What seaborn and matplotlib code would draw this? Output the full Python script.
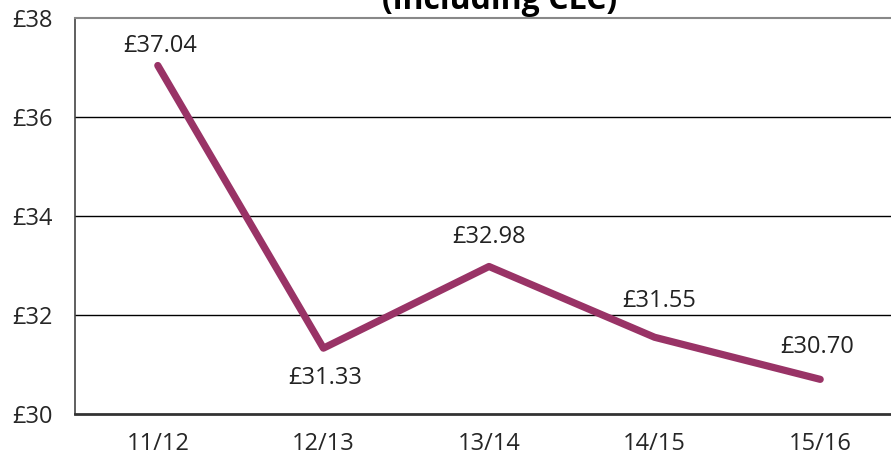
import matplotlib
matplotlib.use("Agg")
import matplotlib.pyplot as plt
import seaborn as sns
import pandas as pd
from matplotlib.ticker import FixedLocator

# data
years = ["11/12", "12/13", "13/14", "14/15", "15/16"]
costs = [37.04, 31.33, 32.98, 31.55, 30.70]
labels = ["£37.04", "£31.33", "£32.98", "£31.55", "£30.70"]
# label offsets in pixels (dx, dy)
offsets = [(2, 20), (2, -30), (0, 29), (5, 36), (-3, 32)]

sns.set_style("white")
plt.rcParams["font.family"] = ["Open Sans", "DejaVu Sans"]

df = pd.DataFrame({"x": range(len(years)), "cost": costs})

fig = plt.figure(figsize=(8.91, 4.61), dpi=100)
ax = fig.add_axes([75 / 891, 47 / 461, 828 / 891, 396 / 461])

for y in [32, 34, 36]:
    ax.axhline(y, color="black", lw=1, zorder=1)

sns.lineplot(data=df, x="x", y="cost", color="#993366", lw=5.2,
             solid_capstyle="round", solid_joinstyle="round", ax=ax, zorder=3)

for i, (v, t) in enumerate(zip(costs, labels)):
    ax.annotate(t, (i, v), xytext=offsets[i], textcoords="offset pixels",
                ha="center", va="center", fontsize=17, color="#222222")

ax.set_xlim(-0.5, 4.5)
ax.set_ylim(30, 38)
ax.set_xticks(range(len(years)))
ax.set_xticklabels(years)
ax.xaxis.set_minor_locator(FixedLocator([-0.5, 0.5, 1.5, 2.5, 3.5, 4.5]))
ax.tick_params(axis="x", which="major", length=0, pad=13, labelsize=17)
ax.tick_params(axis="x", which="minor", length=8, width=1, color="#333333", direction="out")
ax.set_yticks([30, 32, 34, 36, 38])
ax.set_yticklabels(["£30", "£32", "£34", "£36", "£38"])
ax.tick_params(axis="y", length=7, width=1, color="#333333", direction="out", labelsize=17, pad=9)
ax.set_xlabel("")
ax.set_ylabel("")

ax.spines["right"].set_visible(False)
ax.spines["top"].set_color("#888888")
ax.spines["top"].set_linewidth(1.5)
ax.spines["left"].set_color("#444444")
ax.spines["left"].set_linewidth(1.2)
ax.spines["bottom"].set_color("#333333")
ax.spines["bottom"].set_linewidth(2)

# title is partly cut off at the top edge, as in the source
fig.text(500 / 891, 1 - 9 / 461, "(including CLC)", ha="center", va="baseline",
         fontsize=23, fontweight="bold", color="black")

fig.savefig("out.png", dpi=100)
